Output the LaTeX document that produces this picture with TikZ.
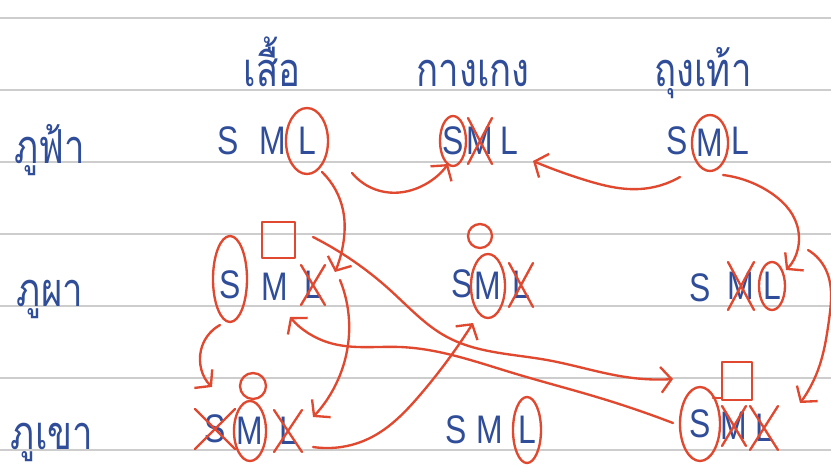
\documentclass[tikz,border=0pt]{standalone}
\usepackage{fontspec}
\usepackage{tikz}
\usetikzlibrary{hobby, calc, arrows.meta}
\newfontfamily\thaifont[Script=Thai,FakeStretch=0.78]{Loma}
\newfontfamily\handfont[FakeStretch=0.8]{Liberation Sans}
\definecolor{ink}{HTML}{2F4D98}
\definecolor{pen}{HTML}{E0492F}
\definecolor{rule}{HTML}{CDCDCD}

\tikzset{
  ltr/.style={inner sep=0pt, text=ink, font=\handfont\fontsize{34}{38}\selectfont},
  word/.style={inner sep=0pt, anchor=base, text=ink, font=\thaifont\fontsize{40}{44}\selectfont},
  redink/.style={draw=pen, line width=2pt, line cap=round, line join=round},
  arr/.style={redink, -{Straight Barb[length=9pt,width=22pt]}},
}
\newcommand\crossit[3]{\draw[redink] ($(#1)+(#2,-#3)$) -- ($(#1)+(-#2,#3)$) ($(#1)+(-#2,-#3)$) -- ($(#1)+(#2,#3)$);}

\begin{document}
\begin{tikzpicture}[x=0.03cm,y=-0.03cm,use Hobby shortcut]
    \useasboundingbox (0,0) rectangle (831,474);
    \fill[white] (0,0) rectangle (831,474);
    \foreach \y in {18,90,...,450}
        \draw[rule, line width=1.6pt] (0,\y) -- (831,\y);

    % headers and names
    \node[word] (shirt) at (272,86) {เสื้อ};
    \node[word] (pants) at (473,86) {กางเกง};
    \node[word] (socks) at (703,86) {ถุงเท้า};
    \node[word] (fa)    at (50,163) {ภูฟ้า};
    \node[word] (pha)   at (50,306) {ภูผา};
    \node[word] (khao)  at (52,449) {ภูเขา};

    % sizes
    \node[ltr] (a1S) at (228,141) {S};
    \node[ltr] (a1M) at (273,141) {M};
    \node[ltr] (a1L) at (307,141) {L};
    \node[ltr] (b1S) at (453,141) {S};
    \node[ltr] (b1M) at (480,141) {M};
    \node[ltr] (b1L) at (509,141) {L};
    \node[ltr] (c1S) at (677,141) {S};
    \node[ltr] (c1M) at (710,143) {M};
    \node[ltr] (c1L) at (740,141) {L};

    \node[ltr] (a2S) at (230,285) {S};
    \node[ltr] (a2M) at (275,287) {M};
    \node[ltr] (a2L) at (313,285) {L};
    \node[ltr] (b2S) at (462,284) {S};
    \node[ltr] (b2M) at (488,286) {M};
    \node[ltr] (b2L) at (521,285) {L};
    \node[ltr] (c2S) at (700,288) {S};
    \node[ltr] (c2M) at (741,286) {M};
    \node[ltr] (c2L) at (772,286) {L};

    \node[ltr] (a3S) at (215,429) {S};
    \node[ltr] (a3M) at (250,431) {M};
    \node[ltr] (a3L) at (288,431) {L};
    \node[ltr] (b3S) at (456,430) {S};
    \node[ltr] (b3M) at (490,430) {M};
    \node[ltr] (b3L) at (527,430) {L};
    \node[ltr] (c3S) at (700,424) {S};
    \node[ltr] (c3M) at (734,426) {M};
    \node[ltr] (c3L) at (764,428) {L};

    % rings
    \draw[redink] (a1L) ellipse [x radius=21, y radius=33];
    \draw[redink] (b1S) ellipse [x radius=13, y radius=25];
    \draw[redink] (c1M) ellipse [x radius=18, y radius=28];
    \draw[redink] ($(a2S)+(0,-6)$) ellipse [x radius=17, y radius=43];
    \draw[redink] (b2M) ellipse [x radius=17, y radius=32];
    \draw[redink] (c2L) ellipse [x radius=13, y radius=24];
    \draw[redink] (a3M) ellipse [x radius=16, y radius=30];
    \draw[redink] (b3L) ellipse [x radius=14, y radius=33];
    \draw[redink] (c3S) ellipse [x radius=20, y radius=37];

    % crosses
    \crossit{b1M}{12}{23}
    \crossit{a2L}{12}{20}
    \crossit{b2L}{12}{22}
    \crossit{c2M}{13}{24}
    \crossit{a3S}{20}{20}
    \crossit{a3L}{14}{21}
    \crossit{c3M}{12}{20}
    \crossit{c3L}{14}{22}

    % boxes and dots
    \draw[redink] (262,222) rectangle (295,258);
    \draw[redink] (713,398) -- (722,398) (722,362) rectangle (752,400);
    \draw[redink] (480,236) circle [radius=12];
    \draw[redink] (253,386) circle [radius=13];

    % moves
    \draw[arr] ($(a1L)+(45,32)$) .. (385,192) .. (420,187) .. ($(b1S)+(-5,23)$);
    \draw[arr] ($(c1M)+(-30,34)$) .. (640,189) .. (585,180) .. ($(b1L)+(24,20)$);
    \draw[arr] ($(c1M)+(13,32)$) .. (768,191) .. (797,225) .. ($(c2L)+(14,-16)$);
    \draw[arr] ($(a1L)+(15,31)$) .. (343,210) .. (343,245) .. ($(a2L)+(22,-13)$);
    \draw[arr] ($(a2L)+(27,-5)$) .. (349,320) .. (340,375) .. ($(a3L)+(25,-14)$);
    \draw[arr] ($(a2S)+(-10,40)$) .. (201,350) .. ($(a3S)+(-3,-42)$);
    \draw[arr] ($(a2L)+(0,-48)$) .. (390,290) .. (447,337) .. (547,360) .. (633,378) .. ($(c3S)+(-27,-45)$);
    \draw[arr] ($(c3S)+(-27,-1)$) .. (600,398) .. (513,373) .. (400,347) .. (330,343) .. ($(a2M)+(15,30)$);
    \draw[arr] ($(a3L)+(25,16)$) .. (370,438) .. (420,395) .. ($(b2M)+(-15,37)$);
    \draw[arr] ($(c2L)+(36,-36)$) .. (826,270) .. (829,320) .. (818,370) .. ($(c3L)+(36,-25)$);
\end{tikzpicture}
\end{document}
